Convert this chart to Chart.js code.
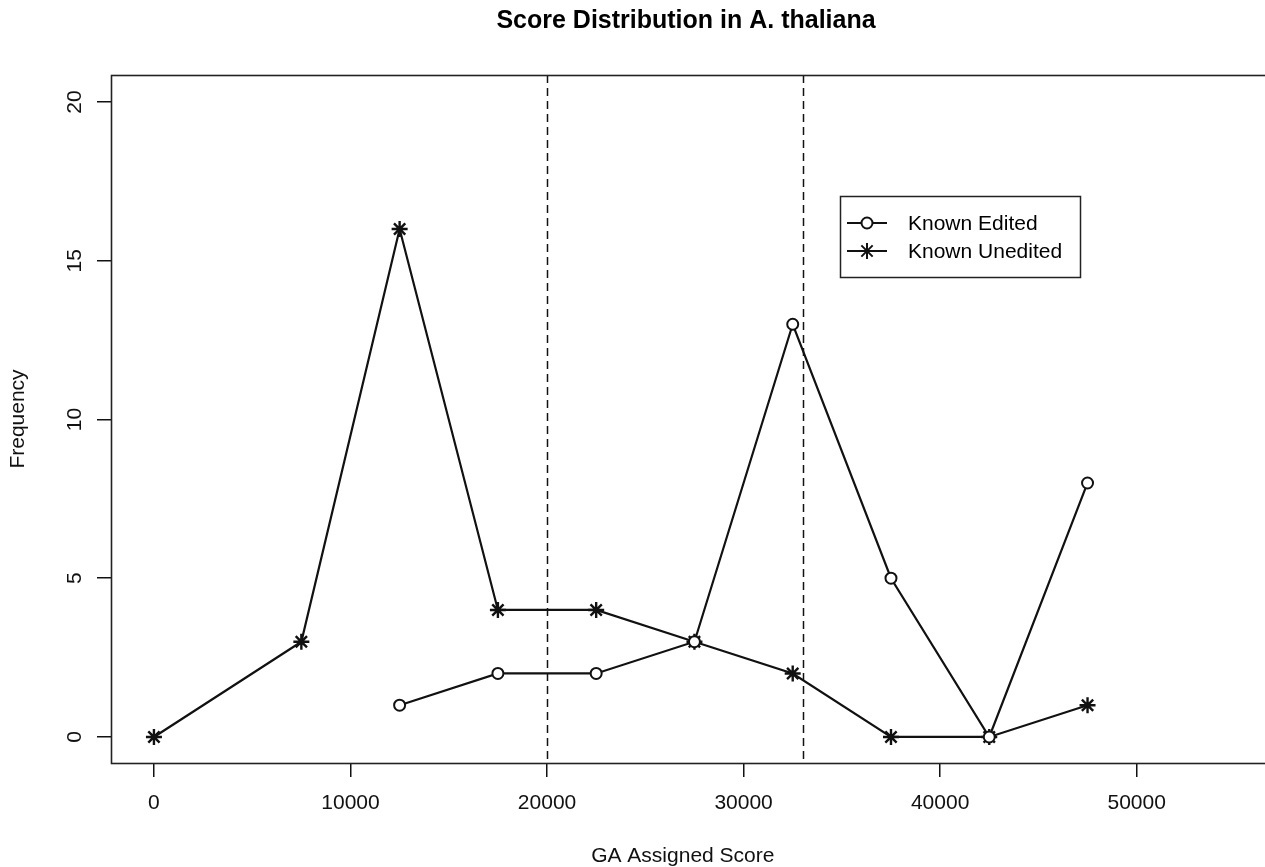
<!DOCTYPE html>
<html>
<head>
<meta charset="utf-8">
<title>Score Distribution in A. thaliana</title>
<script src="https://cdn.jsdelivr.net/npm/chart.js@4/dist/chart.umd.min.js"></script>
<style>
  html, body { margin: 0; padding: 0; background: #fff; }
  canvas { display: block; }
</style>
</head>
<body>
<canvas id="chart" width="1265" height="867"></canvas>
<script>
// bin centres (GA assigned score) and frequencies
var scores = [0, 7500, 12500, 17500, 22500, 27500, 32500, 37500, 42500, 47500];
var knownEdited = [null, null, 1, 2, 2, 3, 13, 5, 0, 8];
var knownUnedited = [0, 3, 16, 4, 4, 3, 2, 0, 0, 1];

var xTicks = [0, 10000, 20000, 30000, 40000, 50000];
var yTicks = [0, 5, 10, 15, 20];
var cutoffs = [20000, 33000];

var FONT = '"Liberation Sans", Arial, Helvetica, sans-serif';
var INK = '#111';

function toPoints(values) {
  var pts = [];
  values.forEach(function(v, i) {
    if (v !== null) pts.push({ x: scores[i], y: v });
  });
  return pts;
}

// title, box, dashed cutoffs and the legend in R's style
var rPlotDecor = {
  id: 'rPlotDecor',
  beforeDatasetsDraw: function(chart) {
    var ctx = chart.ctx, a = chart.chartArea, xs = chart.scales.x;
    ctx.save();
    ctx.strokeStyle = INK;
    ctx.lineWidth = 1.5;
    ctx.setLineDash([8, 5]);
    cutoffs.forEach(function(c) {
      var px = Math.round(xs.getPixelForValue(c)) + 0.5;
      ctx.beginPath();
      ctx.moveTo(px, a.top);
      ctx.lineTo(px, a.bottom);
      ctx.stroke();
    });
    ctx.restore();
  },
  afterDraw: function(chart) {
    var ctx = chart.ctx, a = chart.chartArea;
    ctx.save();
    // frame (right side runs off the picture, as in the original)
    ctx.strokeStyle = '#222';
    ctx.lineWidth = 1.6;
    ctx.strokeRect(a.left + 0.5, a.top + 0.5, chart.width - a.left + 10, a.bottom - a.top);

    // title
    ctx.fillStyle = '#000';
    ctx.font = 'bold 25px ' + FONT;
    ctx.textAlign = 'center';
    ctx.textBaseline = 'middle';
    ctx.fillText('Score Distribution in A. thaliana', 686, 21);

    // legend
    var lx = 840, ly = 196, lw = 240, lh = 81;
    ctx.fillStyle = '#fff';
    ctx.fillRect(lx, ly, lw, lh);
    ctx.strokeStyle = '#222';
    ctx.lineWidth = 1.5;
    ctx.strokeRect(lx + 0.5, ly + 0.5, lw, lh);
    var rows = [
      { text: 'Known Edited', ds: chart.data.datasets[0], y: 223 },
      { text: 'Known Unedited', ds: chart.data.datasets[1], y: 251 }
    ];
    rows.forEach(function(r) {
      ctx.strokeStyle = INK;
      ctx.lineWidth = 2;
      ctx.beginPath();
      ctx.moveTo(847, r.y);
      ctx.lineTo(887, r.y);
      ctx.stroke();
      ctx.fillStyle = '#fff';
      Chart.helpers.drawPoint(ctx, {
        pointStyle: r.ds.pointStyle,
        radius: r.ds.pointRadius,
        borderWidth: r.ds.pointBorderWidth,
        rotation: 0
      }, 867, r.y);
      ctx.fillStyle = '#000';
      ctx.font = '21px ' + FONT;
      ctx.textAlign = 'left';
      ctx.textBaseline = 'middle';
      ctx.fillText(r.text, 908, r.y + 1);
    });
    ctx.restore();
  }
};

var ctx = document.getElementById('chart').getContext('2d');
new Chart(ctx, {
  type: 'line',
  data: {
    datasets: [{
      label: 'Known Edited',
      data: toPoints(knownEdited),
      borderColor: INK,
      borderWidth: 2.2,
      pointStyle: 'circle',
      pointRadius: 5.5,
      pointBorderWidth: 2,
      pointBackgroundColor: '#fff',
      pointBorderColor: INK,
      tension: 0
    }, {
      label: 'Known Unedited',
      data: toPoints(knownUnedited),
      borderColor: INK,
      borderWidth: 2.2,
      pointStyle: 'star',
      pointRadius: 8,
      pointBorderWidth: 2.4,
      pointBackgroundColor: INK,
      pointBorderColor: INK,
      tension: 0
    }]
  },
  options: {
    responsive: false,
    animation: false,
    layout: { padding: { top: 75, right: 0, left: 0, bottom: 0 } },
    plugins: {
      legend: { display: false },
      tooltip: { enabled: false },
      title: { display: false }
    },
    scales: {
      x: {
        type: 'linear',
        min: -2185,
        max: 56000,
        afterBuildTicks: function(s) { s.ticks = xTicks.map(function(v) { return { value: v }; }); },
        afterFit: function(s) { s.height = 104; },
        border: { display: false },
        grid: { drawOnChartArea: false, drawTicks: true, tickLength: 14, color: INK, lineWidth: 1.5 },
        ticks: {
          color: '#111',
          font: { family: FONT, size: 21 },
          padding: 14,
          maxRotation: 0,
          callback: function(v) { return String(v); }
        },
        title: {
          display: true,
          text: 'GA Assigned Score',
          color: '#111',
          font: { family: FONT, size: 21, lineHeight: 1 },
          padding: { top: 0, bottom: 0 }
        }
      },
      y: {
        type: 'linear',
        min: -0.82,
        max: 20.85,
        afterBuildTicks: function(s) { s.ticks = yTicks.map(function(v) { return { value: v }; }); },
        afterFit: function(s) { s.width = 111; },
        border: { display: false },
        grid: { drawOnChartArea: false, drawTicks: true, tickLength: 14, color: INK, lineWidth: 1.5 },
        ticks: {
          color: '#111',
          font: { family: FONT, size: 21 },
          padding: 10,
          minRotation: 90,
          maxRotation: 90,
          crossAlign: 'center',
          callback: function(v) { return String(v); }
        },
        title: {
          display: true,
          text: 'Frequency',
          color: '#111',
          font: { family: FONT, size: 21, lineHeight: 1 },
          padding: { top: 8, bottom: 0 }
        }
      }
    }
  },
  plugins: [rPlotDecor]
});
</script>
</body>
</html>
